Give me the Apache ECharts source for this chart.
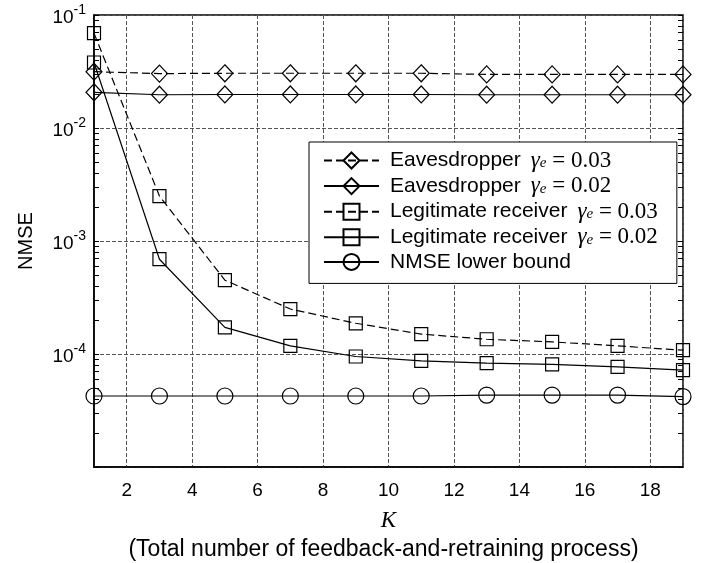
<!DOCTYPE html>
<html>
<head>
<meta charset="utf-8">
<script src="https://cdn.jsdelivr.net/npm/echarts@6/dist/echarts.min.js"></script>
<style>
  html, body { margin: 0; padding: 0; background: #fff; }
  #chart { width: 705px; height: 563px; }
</style>
</head>
<body>
<div id="chart"></div>
<script>
// Feedback-and-retraining rounds K
const K = [1, 3, 5, 7, 9, 11, 13, 15, 17, 19];

// NMSE per round
const eve03   = [0.0315, 0.0303, 0.0305, 0.0305, 0.0305, 0.0305, 0.0298, 0.0298, 0.0298, 0.0298];
const eve02   = [0.0207, 0.0197, 0.0198, 0.0198, 0.0198, 0.0198, 0.0197, 0.0197, 0.0197, 0.0197];
const legit03 = [0.069, 0.0025, 4.5e-4, 2.5e-4, 1.87e-4, 1.50e-4, 1.35e-4, 1.28e-4, 1.18e-4, 1.08e-4];
const legit02 = [0.038, 6.9e-4, 1.72e-4, 1.18e-4, 9.5e-5, 8.7e-5, 8.3e-5, 8.1e-5, 7.7e-5, 7.2e-5];
const bound   = [4.25e-5, 4.25e-5, 4.25e-5, 4.25e-5, 4.25e-5, 4.25e-5, 4.33e-5, 4.33e-5, 4.33e-5, 4.2e-5];

// Legend wording
const legendTitles = ['Eavesdropper', 'Eavesdropper', 'Legitimate receiver', 'Legitimate receiver', 'NMSE lower bound'];
const legendGamma  = ['0.03', '0.02', '0.03', '0.02', null];

// Axis ticks
const xTickLabels = [2, 4, 6, 8, 10, 12, 14, 16, 18];
const yDecades = [1e-5, 1e-4, 1e-3, 1e-2, 1e-1];
const yTickLabels = ['', '-4', '-3', '-2', '-1'];

const SANS = 'Liberation Sans, Arial, sans-serif';
const SERIF = 'Liberation Serif, Times New Roman, serif';

// all decade and in-between log ticks for the inner tick marks
const yTicks = [];
yDecades.forEach((d, i) => {
  yTicks.push(d);
  if (i < yDecades.length - 1) {
    for (let m = 2; m <= 9; m++) yTicks.push(m * d);
  }
});

const seriesNames = legendTitles.map((t, i) =>
  legendGamma[i] ? t + ' \u03b3e = ' + legendGamma[i] : t);

function pairs(vals) {
  return K.map((k, i) => [k, vals[i]]);
}

const DASH = [8, 4];
function lineSeries(idx, vals, symbol, size, dashed) {
  return {
    name: seriesNames[idx],
    type: 'line',
    data: pairs(vals),
    symbol: symbol,
    symbolSize: size,
    showAllSymbol: true,
    lineStyle: { color: '#000', width: 1.2, type: dashed ? DASH : 'solid' },
    itemStyle: { color: 'rgba(0,0,0,0)', borderColor: '#000', borderWidth: 1.2 },
    emphasis: { disabled: true },
    z: 3
  };
}

const tickAxisBase = {
  type: 'log', logBase: 10, min: 1e-5, max: 1e-1,
  axisLine: { show: false },
  axisLabel: { show: false },
  splitLine: { show: false },
  axisTick: { show: true, inside: true, length: 5, customValues: yTicks,
              lineStyle: { color: '#000', width: 1 } }
};

const option = {
  animation: false,
  backgroundColor: '#fff',
  grid: {
    left: 94, right: 22, top: 15, bottom: 96,
    outerBoundsMode: 'none',
    containLabel: false,
    show: true, borderColor: '#000', borderWidth: 1.5, backgroundColor: 'transparent'
  },
  xAxis: {
    type: 'value', min: 1, max: 19, splitNumber: 9,
    axisLine: { show: true, onZero: false, lineStyle: { color: '#000', width: 1.5 } },
    axisTick: { show: false },
    axisLabel: {
      color: '#000', fontFamily: SANS, fontSize: 19, margin: 14,
      formatter: v => (xTickLabels.indexOf(v) >= 0 ? String(v) : '')
    },
    splitLine: { show: true, lineStyle: { color: '#555', width: 1, type: [4, 2] } },
    name: '{k|K}\n{t|(Total number of feedback-and-retraining process)}',
    nameLocation: 'middle',
    nameGap: 39,
    nameTextStyle: {
      rich: {
        k: { fontFamily: SERIF, fontStyle: 'italic', fontSize: 23, color: '#000', lineHeight: 30, align: 'center' },
        t: { fontFamily: SANS, fontSize: 23, color: '#000', lineHeight: 28, align: 'center', padding: [0, 10, 0, 0] }
      }
    }
  },
  yAxis: [
    {
      type: 'log', logBase: 10, min: 1e-5, max: 1e-1, position: 'left',
      axisLine: { show: true, lineStyle: { color: '#000', width: 1.5 } },
      axisTick: { show: false },
      splitLine: { show: true, lineStyle: { color: '#555', width: 1, type: [4, 2] } },
      axisLabel: {
        margin: 8,
        formatter: v => {
          const e = Math.round(Math.log10(v));
          const i = yDecades.findIndex(d => Math.round(Math.log10(d)) === e);
          if (i < 0 || !yTickLabels[i]) return '';
          return '{b|10}{p|' + yTickLabels[i] + '}';
        },
        rich: {
          b: { fontFamily: SANS, fontSize: 19, color: '#000', lineHeight: 24, padding: [5, 0, 0, 0], verticalAlign: 'bottom' },
          p: { fontFamily: SANS, fontSize: 14, color: '#000', lineHeight: 14, verticalAlign: 'top' }
        }
      },
      name: 'NMSE',
      nameLocation: 'middle',
      nameGap: 58,
      nameTextStyle: { fontFamily: SANS, fontSize: 20, color: '#000' }
    },
    Object.assign({ position: 'left' }, tickAxisBase),
    Object.assign({ position: 'right' }, tickAxisBase)
  ],
  legend: {
    orient: 'vertical',
    left: 309, top: 142,
    padding: [7, 19, 11, 14],
    itemWidth: 55, itemHeight: 20, itemGap: 2.6,
    backgroundColor: '#fff',
    borderColor: '#000', borderWidth: 1,
    borderRadius: 0,
    selectedMode: false,
    data: seriesNames,
    formatter: name => {
      const i = seriesNames.indexOf(name);
      let s = '{t|' + legendTitles[i] + '}';
      if (legendGamma[i]) s += '{g|\u03b3}{s|e}{m| = ' + legendGamma[i] + '}';
      return s;
    },
    textStyle: {
      padding: [0, 0, 0, 6],
      rich: {
        t: { fontFamily: SANS, fontSize: 21, color: '#000', lineHeight: 20 },
        g: { fontFamily: SERIF, fontStyle: 'italic', fontSize: 23, color: '#000', lineHeight: 20, padding: [0, 0, 0, 10] },
        s: { fontFamily: SERIF, fontStyle: 'italic', fontSize: 15, color: '#000', lineHeight: 12, verticalAlign: 'bottom' },
        m: { fontFamily: SERIF, fontSize: 23, color: '#000', lineHeight: 20 }
      }
    }
  },
  series: [
    lineSeries(0, eve03, 'diamond', [16, 17], true),
    lineSeries(1, eve02, 'diamond', [16, 17], false),
    lineSeries(2, legit03, 'rect', 13, true),
    lineSeries(3, legit02, 'rect', 13, false),
    lineSeries(4, bound, 'circle', 16, false)
  ]
};

const chart = echarts.init(document.getElementById('chart'), null, { renderer: 'canvas' });
chart.setOption(option);
</script>
</body>
</html>
